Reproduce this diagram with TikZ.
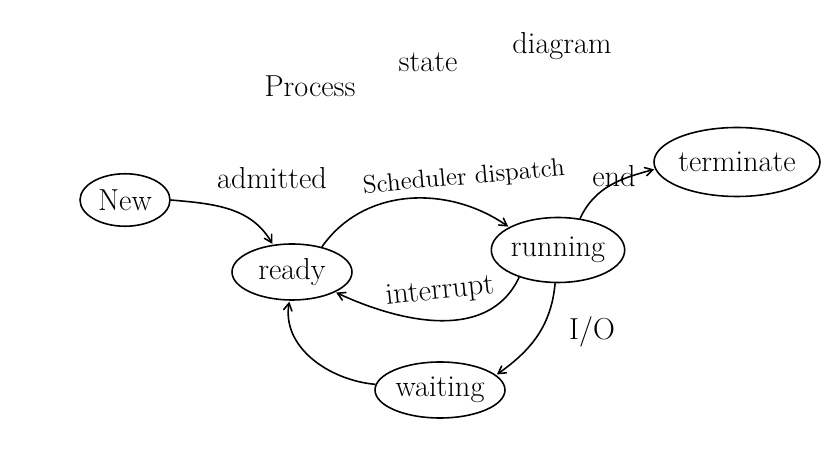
\documentclass[tikz,border=0pt]{standalone}
\usepackage{amssymb,amsmath}
\usepackage{tikz}
\usetikzlibrary{calc}
\usetikzlibrary{shapes.geometric}
\usetikzlibrary{arrows}
\tikzset{
    state/.style={draw, ellipse, line width=0.9pt, inner sep=0pt, font=\LARGE},
    trans/.style={->, >=angle 60, line width=0.9pt, shorten >=0.5pt}
}

\begin{document}
\begin{tikzpicture}[x=0.02cm, y=-0.02cm]
\useasboundingbox[fill=white] (0,0) rectangle (825,455);
\foreach \x/\y/\p/\w/\h/\labeltext in {125/200/new/1.8/1.05/{New}, 292/272/ready/2.4/1.12/{ready}, 558/250/running/2.65/1.3/{running}, 737/162/terminate/3.3/1.38/{terminate}, 440/390/waiting/2.6/1.12/{waiting}}{
    \node[state, minimum width=\w cm, minimum height=\h cm] (\p) at (\x,\y) {\labeltext};
}
\node (t1) at (310,86)[font=\LARGE] {Process};
\node (t2) at (428,62)[font=\LARGE] {state};
\node (t3) at (562,46)[font=\LARGE] {diagram};
\node at (272,178)[font=\LARGE] {admitted};
\node at (464,178)[rotate=5, font=\Large] {Scheduler dispatch};
\node at (614,176)[font=\LARGE] {end};
\node at (440,292)[rotate=6, font=\LARGE] {interrupt};
\node at (592,332)[font=\LARGE] {I/O};
\draw[trans] (new.east) to [out=-5, in=120] (ready.125);
\draw[trans] (ready.40) to [out=55, in=145] (running.155);
\draw[trans] (running.215) to [out=-115, in=-25] (ready.-25);
\draw[trans] (running.55) to [out=65, in=195] (terminate.185);
\draw[trans] (running.-95) to [out=-95, in=35] (waiting.15);
\draw[trans] (waiting.175) to [out=175, in=-100] (ready.-95);
\end{tikzpicture}
\end{document}
